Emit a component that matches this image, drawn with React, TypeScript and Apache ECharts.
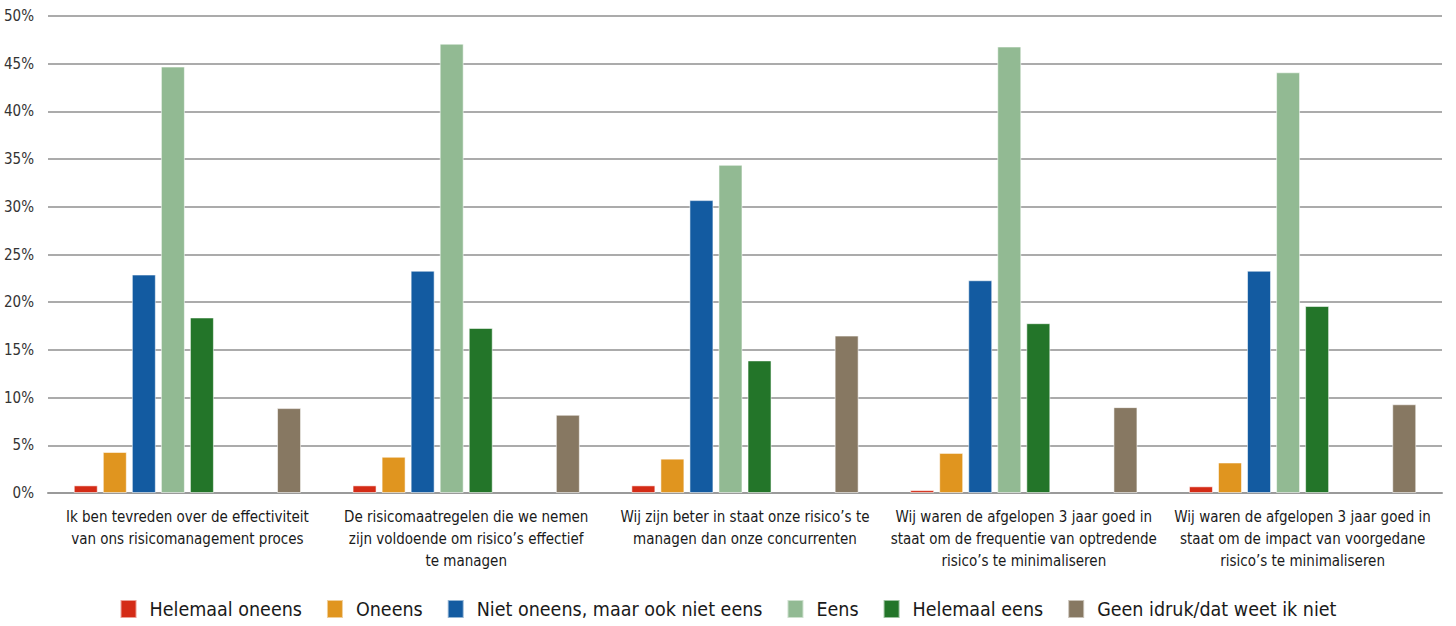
import React, { useEffect, useRef } from "react";
import * as echarts from "echarts";

const categories = [
  "Ik ben tevreden over de effectiviteit\nvan ons risicomanagement proces",
  "De risicomaatregelen die we nemen\nzijn voldoende om risico’s effectief\nte managen",
  "Wij zijn beter in staat onze risico’s te\nmanagen dan onze concurrenten",
  "Wij waren de afgelopen 3 jaar goed in\nstaat om de frequentie van optredende\nrisico’s te minimaliseren",
  "Wij waren de afgelopen 3 jaar goed in\nstaat om de impact van voorgedane\nrisico’s te minimaliseren",
];

const yTicks = [0, 5, 10, 15, 20, 25, 30, 35, 40, 45, 50];

const helemaalOneens = [0.8, 0.8, 0.8, 0.3, 0.7];
const oneens = [4.3, 3.8, 3.6, 4.2, 3.2];
const nietOneensNietEens = [22.9, 23.3, 30.7, 22.3, 23.3];
const eens = [44.7, 47.1, 34.4, 46.8, 44.1];
const helemaalEens = [18.4, 17.3, 13.9, 17.8, 19.6];
const geenIdee = [8.9, 8.2, 16.5, 9.0, 9.3];

const seriesNames = [
  "Helemaal oneens",
  "Oneens",
  "Niet oneens, maar ook niet eens",
  "Eens",
  "Helemaal eens",
  "Geen idruk/dat weet ik niet",
];
const seriesColors = ["#D42B16", "#E0951F", "#135BA1", "#92BA93", "#237529", "#877862"];

const FONT = "'DejaVu Sans Condensed', 'Roboto', sans-serif";

export default function App() {
  const ref = useRef<HTMLDivElement>(null);
  useEffect(() => {
    if (!ref.current) return;
    const chart = echarts.init(ref.current, undefined, { renderer: "svg" });
    const mk = (name: string, data: (number | string)[], color: string) => ({
      name,
      type: "bar",
      data,
      barWidth: 24,
      barGap: "21%",
      itemStyle: { color, borderColor: "rgba(255,255,255,0.55)", borderWidth: 1 },
    });
    const empty = ["-", "-", "-", "-", "-"];
    chart.setOption({
      animation: false,
      textStyle: { fontFamily: FONT },
      grid: { left: 48, right: 14, top: 16, bottom: 133 },
      legend: {
        data: seriesNames,
        bottom: 2,
        left: "center",
        itemWidth: 16,
        itemHeight: 18,
        itemGap: 24,
        icon: "rect",
        textStyle: { fontFamily: FONT, fontSize: 19.5, color: "#1a1a1a", padding: [0, 0, 0, 8] },
      },
      xAxis: {
        type: "category",
        data: categories,
        axisTick: { show: false },
        axisLine: { lineStyle: { color: "#9a9a9a", width: 2 } },
        axisLabel: {
          fontFamily: FONT,
          fontSize: 15,
          color: "#1a1a1a",
          lineHeight: 22,
          margin: 13,
          interval: 0,
          align: "center",
        },
      },
      yAxis: {
        type: "value",
        min: yTicks[0],
        max: yTicks[yTicks.length - 1],
        interval: 5,
        axisLine: { show: false },
        axisTick: { show: false },
        splitLine: { lineStyle: { color: "#8f8f8f", width: 1.5 } },
        axisLabel: {
          fontFamily: FONT,
          fontSize: 15,
          color: "#333",
          margin: 14,
          formatter: (v: number) => `${v}%`,
        },
      },
      series: [
        mk(seriesNames[0], helemaalOneens, seriesColors[0]),
        mk(seriesNames[1], oneens, seriesColors[1]),
        mk(seriesNames[2], nietOneensNietEens, seriesColors[2]),
        mk(seriesNames[3], eens, seriesColors[3]),
        mk(seriesNames[4], helemaalEens, seriesColors[4]),
        mk("leeg1", empty, "#ffffff"),
        mk("leeg2", empty, "#ffffff"),
        mk(seriesNames[5], geenIdee, seriesColors[5]),
      ],
    });
    return () => chart.dispose();
  }, []);
  return (
    <div
      ref={ref}
      style={{ position: "fixed", left: 0, top: 0, width: 1456, height: 626, background: "#fff" }}
    />
  );
}
